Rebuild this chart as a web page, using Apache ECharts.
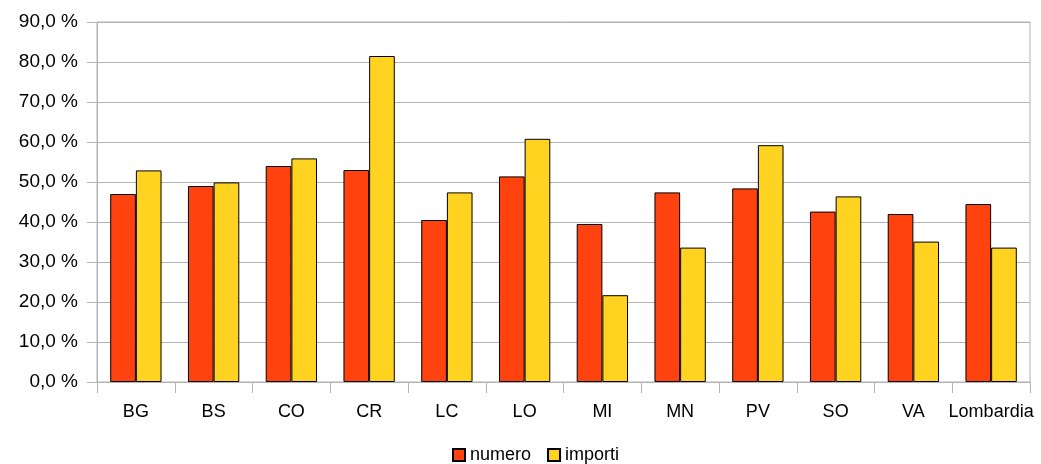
<!DOCTYPE html>
<html>
<head>
<meta charset="utf-8">
<script src="https://cdn.jsdelivr.net/npm/echarts@6/dist/echarts.min.js"></script>
<style>html,body{margin:0;padding:0;background:#fff}#c{width:1041px;height:464px}</style>
</head>
<body>
<div id="c"></div>
<script>
var categories = ['BG','BS','CO','CR','LC','LO','MI','MN','PV','SO','VA','Lombardia'];
var numero = [47.0, 49.0, 54.0, 53.0, 40.5, 51.4, 39.5, 47.4, 48.4, 42.6, 42.0, 44.5];
var importi = [52.9, 49.9, 55.9, 81.5, 47.4, 60.8, 21.7, 33.6, 59.2, 46.4, 35.1, 33.6];
var seriesNames = ['numero', 'importi'];
var yTicks = [0, 10, 20, 30, 40, 50, 60, 70, 80, 90];

var font = '"Liberation Sans", Arial, sans-serif';
var chart = echarts.init(document.getElementById('c'), null, {renderer: 'canvas'});
chart.setOption({
  animation: false,
  backgroundColor: '#ffffff',
  grid: {left: 97, right: 11, top: 22, bottom: 82, show: true, borderColor: '#b3b3b3', borderWidth: 1, backgroundColor: 'transparent'},
  legend: {
    top: 446, left: 452, padding: 0,
    itemWidth: 12, itemHeight: 12, itemGap: 16,
    icon: 'rect',
    textStyle: {fontFamily: font, fontSize: 18, color: '#000'},
    data: seriesNames
  },
  xAxis: {
    type: 'category',
    data: categories,
    axisLine: {lineStyle: {color: '#b3b3b3'}},
    axisTick: {show: true, length: 11, lineStyle: {color: '#b3b3b3'}},
    axisLabel: {fontFamily: font, fontSize: 18, color: '#000', margin: 21, interval: 0}
  },
  yAxis: {
    type: 'value',
    min: yTicks[0], max: yTicks[yTicks.length - 1], interval: 10,
    axisLine: {show: true, lineStyle: {color: '#b3b3b3'}},
    axisTick: {show: true, length: 10, lineStyle: {color: '#b3b3b3'}},
    splitLine: {lineStyle: {color: '#b3b3b3'}},
    axisLabel: {
      fontFamily: font, fontSize: 19, color: '#000', margin: 19,
      formatter: function (v) { return v.toFixed(1).replace('.', ',') + ' %'; }
    }
  },
  series: [
    {name: seriesNames[0], type: 'bar', data: numero, barGap: '0%', barCategoryGap: '34%',
     itemStyle: {color: '#ff420e', borderColor: '#000', borderWidth: 1}},
    {name: seriesNames[1], type: 'bar', data: importi, barGap: '0%', barCategoryGap: '34%',
     itemStyle: {color: '#ffd320', borderColor: '#000', borderWidth: 1}}
  ]
});
</script>
</body>
</html>
